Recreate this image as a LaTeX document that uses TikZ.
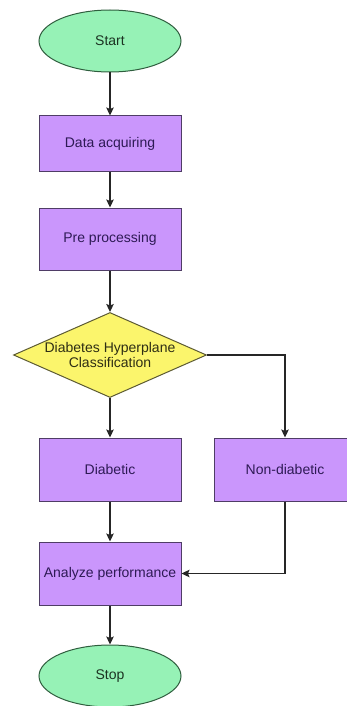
\documentclass[tikz,border=0pt]{standalone}
\usepackage{fontspec}
\setmainfont{Liberation Sans}
\usepackage{tikz}
\usetikzlibrary{arrows.meta,positioning,shapes.geometric}
\definecolor{termfill}{HTML}{96F2B6}
\definecolor{termline}{HTML}{2F5E3E}
\definecolor{termtext}{HTML}{1C3322}
\definecolor{procfill}{HTML}{CA96FC}
\definecolor{procline}{HTML}{4F3D66}
\definecolor{proctext}{HTML}{2E1A55}
\definecolor{decfill}{HTML}{FBF56C}
\definecolor{decline}{HTML}{5C5A33}
\definecolor{dectext}{HTML}{2E2E14}
\tikzset{
  >={Stealth[length=8pt,width=7.5pt,inset=1.5pt]},
  % knoten
  term/.style={ellipse,draw=termline,fill=termfill,text=termtext,line width=1pt,
               minimum width=142pt,minimum height=62pt,inner sep=0pt},
  proc/.style={rectangle,draw=procline,fill=procfill,text=proctext,line width=1pt,
               minimum width=142pt,minimum height=63pt,inner sep=0pt},
  dec/.style={diamond,aspect=2.27,draw=decline,fill=decfill,text=dectext,line width=1pt,
              minimum width=193pt,minimum height=85pt,inner sep=0pt,align=center},
  % pfeile
  fl/.style={->,draw=black!85,line width=1.2pt},
}
\begin{document}
\begin{tikzpicture}[x=1pt,y=-1pt,font=\fontsize{14}{15}\selectfont]
  \useasboundingbox (0,0) rectangle (347,706);
  \node[term] (start) at (110,41) {Start};
  \node[proc,minimum height=55pt] (acq) at (110,143.5) {Data acquiring};
  \node[proc,minimum height=62pt] (pre) at (110,239) {Pre processing};
  \node[dec] (cls) at (110,355) {Diabetes Hyperplane\\Classification};
  \node[proc] (diab) at (110,469.5) {Diabetic};
  \node[proc] (nondiab) at (285,469.5) {Non-diabetic};
  \node[proc] (ana) at (110,573.5) {Analyze performance};
  \node[term] (stop) at (110,676) {Stop};
  \draw[fl] (start) -- (acq);
  \draw[fl] (acq) -- (pre);
  \draw[fl] (pre) -- (cls);
  \draw[fl] (cls) -- (diab);
  \draw[fl] (cls.east) -| (nondiab.north);
  \draw[fl] (diab) -- (ana);
  \draw[fl] (nondiab.south) |- (ana.east);
  \draw[fl] (ana) -- (stop);
\end{tikzpicture}
\end{document}
